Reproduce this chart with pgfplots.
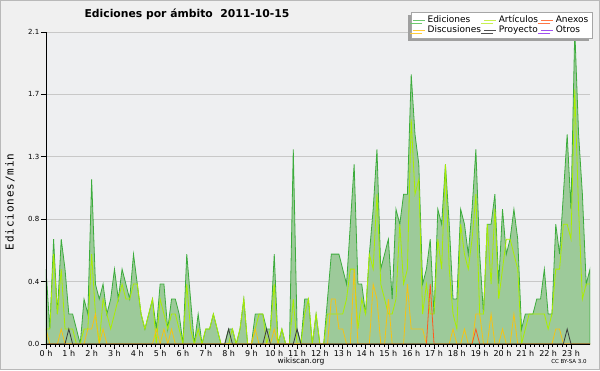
\documentclass[border=0pt]{standalone}
\usepackage{fontspec}
\setmainfont{DejaVu Sans}
\newfontfamily\monofont[LetterSpace=8]{DejaVu Sans Mono}
\usepackage{pgfplots}
\usepackage{pgfplotstable}
\pgfplotsset{compat=1.18}
\usetikzlibrary{shadows}

\definecolor{outerbg}{RGB}{240,240,240}
\definecolor{plotbg}{RGB}{238,239,241}
\definecolor{edfill}{RGB}{157,202,154}
\definecolor{edline}{RGB}{60,172,60}
\definecolor{arline}{RGB}{170,238,0}
\definecolor{diline}{RGB}{245,195,20}
\definecolor{anline}{RGB}{255,90,30}
\definecolor{prline}{RGB}{60,60,60}
\definecolor{otline}{RGB}{150,60,230}
\definecolor{gridc}{RGB}{200,200,200}
\definecolor{edleg}{RGB}{110,200,110}
\definecolor{arleg}{RGB}{200,240,80}
\definecolor{anleg}{RGB}{255,120,70}
\definecolor{dileg}{RGB}{255,205,60}
\definecolor{prleg}{RGB}{80,80,80}
\definecolor{otleg}{RGB}{160,80,240}

% i = 10-minute bin, values = edits per bin (edits/min = value/10)
\pgfplotstableread{
i ed ar di pr an
0 5 1 1 0 0
1 1 1 0 0 0
2 7 6 0 0 0
3 2 2 0 0 0
4 7 5 1 0 0
5 5 1 0 0 0
6 2 1 0 1 0
7 2 1 0 0 0
8 1 0 0 0 0
9 0 0 0 0 0
10 3 1 0 0 0
11 2 1 1 0 0
12 11 6 1 0 0
13 4 2 2 0 0
14 3 0 0 0 0
15 4 3 1 0 0
16 2 2 0 0 0
17 3 1 0 0 0
18 5 2 0 0 0
19 3 3 0 0 0
20 5 4 0 0 0
21 4 3 0 0 0
22 3 3 0 0 0
23 6 4 0 0 0
24 4 4 0 0 0
25 2 2 0 0 0
26 1 1 0 0 0
27 2 2 0 0 0
28 3 3 0 0 0
29 1 0 1 0 0
30 4 3 0 0 0
31 4 2 1 0 0
32 1 1 0 0 0
33 3 2 1 0 0
34 3 2 0 0 0
35 2 1 0 0 0
36 0 0 0 0 0
37 6 4 0 0 0
38 3 1 0 0 0
39 0 0 0 0 0
40 2 1 0 0 0
41 0 0 0 0 0
42 1 1 0 0 0
43 1 1 0 0 0
44 2 2 0 0 0
45 1 1 0 0 0
46 0 0 0 0 0
47 0 0 0 0 0
48 1 0 0 1 0
49 1 1 0 0 0
50 0 0 0 0 0
51 1 1 0 0 0
52 3 3 0 0 0
53 0 0 0 0 0
54 0 0 0 0 0
55 2 1 1 0 0
56 2 2 0 0 0
57 2 2 0 0 0
58 1 0 0 1 0
59 1 1 0 0 0
60 6 4 1 0 0
61 0 0 0 0 0
62 1 1 0 0 0
63 0 0 0 0 0
64 0 0 0 0 0
65 13 3 0 0 0
66 1 0 0 1 0
67 0 0 0 0 0
68 3 2 0 0 0
69 3 3 0 0 0
70 0 0 0 0 0
71 2 2 0 0 0
72 0 0 0 0 0
73 0 0 0 0 0
74 3 2 0 0 0
75 6 2 3 0 0
76 6 2 3 0 0
77 6 2 1 0 0
78 5 2 1 0 0
79 4 3 0 0 0
80 8 5 0 0 0
81 12 5 5 0 0
82 4 1 0 0 0
83 4 3 0 0 0
84 2 2 0 0 0
85 6 6 0 0 0
86 9 5 4 0 0
87 13 10 3 0 0
88 5 4 0 0 0
89 6 3 0 0 0
90 7 2 3 0 0
91 3 2 0 0 0
92 9 3 0 0 0
93 8 8 0 0 0
94 10 4 0 0 0
95 10 5 4 0 0
96 18 15 1 0 0
97 14 10 1 0 0
98 12 11 1 0 0
99 4 2 1 0 0
100 5 4 0 0 0
101 7 2 0 0 4
102 2 2 0 0 0
103 9 7 0 0 0
104 8 5 0 0 0
105 12 12 0 0 0
106 8 5 0 0 0
107 3 2 1 0 0
108 3 1 0 0 0
109 9 8 0 0 0
110 8 6 1 0 0
111 6 5 0 0 0
112 9 7 0 0 0
113 13 10 2 0 1
114 6 2 2 0 0
115 2 2 0 0 0
116 8 8 0 0 0
117 8 4 2 0 0
118 10 9 0 0 0
119 4 3 0 0 0
120 9 5 1 0 0
121 6 7 0 0 0
122 7 7 0 0 0
123 9 6 2 0 0
124 7 5 0 0 0
125 1 0 0 0 0
126 2 1 0 0 0
127 2 2 0 0 0
128 2 2 0 0 0
129 3 2 0 0 0
130 3 2 0 0 0
131 5 2 0 0 0
132 2 1 0 0 0
133 2 2 0 0 0
134 8 5 1 0 0
135 6 5 1 0 0
136 10 8 0 0 0
137 14 8 0 1 0
138 9 7 0 0 0
139 21 17 0 0 0
140 14 9 0 0 0
141 10 3 0 0 0
142 4 4 0 0 0
143 5 4 0 0 0
}\datatable

\begin{document}
\begin{tikzpicture}[x=1pt,y=1pt]
\fill[outerbg] (0,0) rectangle (600,370);
\useasboundingbox (0,0) rectangle (600,370);
\draw[gray!55, line width=1pt] (0.5,0.5) rectangle (599.5,369.5);

\begin{axis}[
  at={(46pt,26pt)}, anchor=south west,
  scale only axis, width=544pt, height=312pt,
  xmin=0, xmax=143, ymin=0, ymax=2.083333,
  axis background/.style={fill=plotbg},
  axis line style={draw=none},
  tick pos=left, tick align=outside,
  major tick length=5pt, minor tick length=3pt,
  every tick/.style={black, line width=0.6pt},
  xtick={0,6,...,138},
  xticklabels={0 h,1 h,2 h,3 h,4 h,5 h,6 h,7 h,8 h,9 h,10 h,11 h,12 h,13 h,14 h,15 h,16 h,17 h,18 h,19 h,20 h,21 h,22 h,23 h},
  minor x tick num=4,
  ytick={0,0.416667,0.833333,1.25,1.666667,2.083333},
  yticklabels={0.0,0.4,0.8,1.3,1.7,2.1},
  minor y tick num=3,
  ymajorgrids, grid style={gridc, line width=0.6pt},
  xticklabel style={font=\fontsize{8}{8}\selectfont, inner sep=1pt},
  yticklabel style={font=\fontsize{7}{7}\selectfont, inner sep=1.5pt},
  legend columns=3,
  legend cell align=left,
  legend style={at={(1.0037,1.064)}, anchor=north east, draw=gray!70, fill=white,
    font=\fontsize{9}{9}\selectfont, inner sep=1.5pt, row sep=-2.5pt,
    /tikz/every even column/.append style={column sep=1pt},
    drop shadow={shadow xshift=-3pt, shadow yshift=-3pt, fill=gray!75, opacity=1}},
  legend image code/.code={\draw[#1, line width=0.8pt] (0pt,0pt) -- (12pt,0pt);},
]
\addlegendimage{edleg}\addlegendentry{Ediciones}
\addlegendimage{arleg}\addlegendentry{Artículos}
\addlegendimage{anleg}\addlegendentry{Anexos}
\addlegendimage{dileg}\addlegendentry{Discusiones}
\addlegendimage{prleg}\addlegendentry{Proyecto}
\addlegendimage{otleg}\addlegendentry{Otros}

\addplot[forget plot, fill=edfill, draw=edline, line width=0.8pt]
  table[x=i, y expr=\thisrow{ed}/10] {\datatable} \closedcycle;
\addplot[forget plot, arline, line width=0.8pt] table[x=i, y expr=\thisrow{ar}/10] {\datatable};
\addplot[forget plot, diline, line width=0.8pt] table[x=i, y expr=\thisrow{di}/10] {\datatable};
\addplot[forget plot, anline, line width=0.8pt] table[x=i, y expr=\thisrow{an}/10] {\datatable};
\addplot[forget plot, prline, line width=0.8pt] table[x=i, y expr=\thisrow{pr}/10] {\datatable};
\draw[black, line width=0.8pt] (rel axis cs:0,0) -- (rel axis cs:1,0);
\draw[black, line width=0.8pt] (rel axis cs:0,0) -- (rel axis cs:0,1);
\end{axis}

\node[font=\bfseries\fontsize{10.8}{10.8}\selectfont] at (187,356) {Ediciones por ámbito\ \ 2011-10-15};
\node[rotate=90, font=\monofont\fontsize{11}{11}\selectfont] at (10,168) {Ediciones/min};
\node[font=\fontsize{7.5}{7.5}\selectfont] at (301,9) {wikiscan.org};
\node[font=\fontsize{5.5}{5.5}\selectfont] at (569,9) {CC BY-SA 3.0};
\end{tikzpicture}
\end{document}
